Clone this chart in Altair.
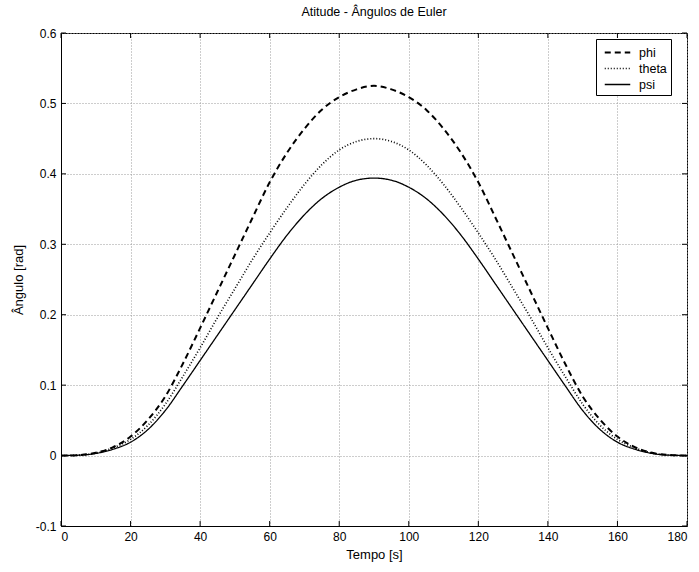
import altair as alt
import pandas as pd

# Time axis (s)
tempo = [0, 5, 10, 15, 20, 25, 30, 35, 40, 45, 50, 55, 60, 65, 70, 75, 80, 85, 90,
         95, 100, 105, 110, 115, 120, 125, 130, 135, 140, 145, 150, 155, 160, 165, 170, 175, 180]

phi = [0, 0.0007, 0.004, 0.012, 0.027, 0.051, 0.084, 0.130, 0.181, 0.233, 0.285, 0.337, 0.388,
       0.430, 0.464, 0.491, 0.509, 0.520, 0.525,
       0.520, 0.509, 0.491, 0.464, 0.430, 0.388, 0.337, 0.285, 0.233, 0.181, 0.130, 0.084,
       0.051, 0.027, 0.012, 0.004, 0.0007, 0]

theta = [0, 0.0006, 0.0035, 0.011, 0.023, 0.043, 0.073, 0.112, 0.153, 0.196, 0.237, 0.278, 0.316,
         0.352, 0.385, 0.413, 0.434, 0.446, 0.450,
         0.446, 0.434, 0.413, 0.385, 0.352, 0.316, 0.278, 0.237, 0.196, 0.153, 0.112, 0.073,
         0.043, 0.023, 0.011, 0.0035, 0.0006, 0]

psi = [0, 0.0005, 0.003, 0.009, 0.019, 0.037, 0.064, 0.099, 0.135, 0.171, 0.207, 0.243, 0.279,
       0.313, 0.342, 0.365, 0.381, 0.391, 0.394,
       0.391, 0.381, 0.365, 0.342, 0.313, 0.279, 0.243, 0.207, 0.171, 0.135, 0.099, 0.064,
       0.037, 0.019, 0.009, 0.003, 0.0005, 0]

series = ["phi", "theta", "psi"]
x_ticks = [0, 20, 40, 60, 80, 100, 120, 140, 160, 180]
y_ticks = [-0.1, 0, 0.1, 0.2, 0.3, 0.4, 0.5, 0.6]

rows = []
for name, vals in zip(series, [phi, theta, psi]):
    for t, v in zip(tempo, vals):
        rows.append({"t": t, "v": v, "serie": name})
df = pd.DataFrame(rows)

W, H = 626, 493
FONT = "Liberation Sans"

xscale = alt.Scale(domain=[0, 180], nice=False, zero=False)
yscale = alt.Scale(domain=[-0.1, 0.6], nice=False, zero=False)

leg = alt.Legend(title=None, orient="none", legendX=535, legendY=6)

lines = alt.Chart(df).mark_line(interpolate="monotone", color="black").encode(
    x=alt.X("t:Q", scale=xscale,
            axis=alt.Axis(values=x_ticks, title="Tempo [s]", grid=True, tickSize=0,
                          labelPadding=5, titlePadding=6)),
    y=alt.Y("v:Q", scale=yscale,
            axis=alt.Axis(values=y_ticks, title="Ângulo [rad]", grid=True, tickSize=0,
                          labelPadding=5, titlePadding=10,
                          labelExpr="replace(format(datum.value, '.1~f'), '\u2212', '-')")),
    strokeDash=alt.StrokeDash("serie:N",
                              scale=alt.Scale(domain=series, range=[[6, 4], [1, 2], [1, 0]]),
                              legend=leg),
    strokeWidth=alt.StrokeWidth("serie:N",
                                scale=alt.Scale(domain=series, range=[2, 1.3, 2]),
                                legend=leg),
    detail="serie:N",
)

xt = pd.DataFrame({"t": x_ticks})
yt = pd.DataFrame({"v": y_ticks})

bot = alt.Chart(xt).mark_rule(color="black", strokeWidth=1).encode(
    x=alt.X("t:Q", scale=xscale), y=alt.value(H), y2=alt.value(H - 5))
top = alt.Chart(xt).mark_rule(color="black", strokeWidth=1).encode(
    x=alt.X("t:Q", scale=xscale), y=alt.value(0), y2=alt.value(5))
left = alt.Chart(yt).mark_rule(color="black", strokeWidth=1).encode(
    y=alt.Y("v:Q", scale=yscale), x=alt.value(0), x2=alt.value(5))
right = alt.Chart(yt).mark_rule(color="black", strokeWidth=1).encode(
    y=alt.Y("v:Q", scale=yscale), x=alt.value(W - 5), x2=alt.value(W))

chart = alt.layer(lines, bot, top, left, right).properties(
    width=W, height=H,
    title=alt.TitleParams("Atitude - Ângulos de Euler", anchor="middle", fontSize=12.5,
                          fontWeight="normal", font=FONT, offset=9, color="black"),
    autosize=alt.AutoSizeParams(type="none"),
    padding={"left": 61, "top": 33, "right": 12, "bottom": 46},
).configure_view(
    stroke="black", strokeWidth=1
).configure_axis(
    labelFont=FONT, titleFont=FONT, labelFontSize=12, titleFontSize=13,
    titleFontWeight="normal", labelColor="black", titleColor="black",
    domainColor="black", gridColor="#9a9a9a", gridDash=[1, 2], gridWidth=1,
).configure_legend(
    labelFont=FONT, labelFontSize=12.5, labelColor="black",
    strokeColor="black", fillColor="white", padding=4, cornerRadius=0,
    symbolType="M-1.5,0H1.5", symbolSize=289, symbolStrokeColor="black",
    symbolFillColor="transparent",
    rowPadding=0, labelOffset=12, symbolOffset=8,
)

chart.save("out.html", embed_options={"renderer": "svg", "actions": False})
